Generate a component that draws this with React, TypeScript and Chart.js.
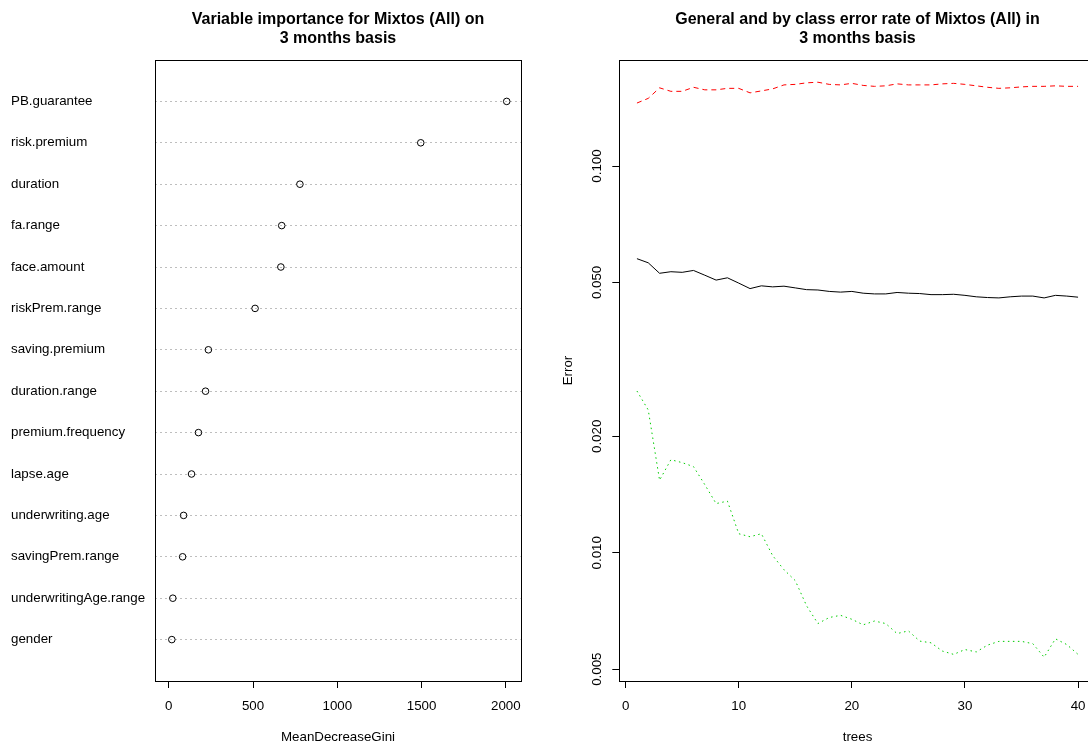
import React, { useEffect, useRef } from 'react';
import { Chart, registerables } from 'chart.js';

Chart.register(...registerables);

// ---------- Left panel: variable importance ----------
const variables = [
  'PB.guarantee',
  'risk.premium',
  'duration',
  'fa.range',
  'face.amount',
  'riskPrem.range',
  'saving.premium',
  'duration.range',
  'premium.frequency',
  'lapse.age',
  'underwriting.age',
  'savingPrem.range',
  'underwritingAge.range',
  'gender',
];
const importance = [2005, 1495, 778, 670, 665, 512, 235, 218, 176, 135, 88, 82, 24, 18];
const importanceTicks = [0, 500, 1000, 1500, 2000];

// ---------- Right panel: error rates ----------
const trees = [
  1, 2, 3, 4, 5, 6, 7, 8, 9, 10, 11, 12, 13, 14, 15, 16, 17, 18, 19, 20,
  21, 22, 23, 24, 25, 26, 27, 28, 29, 30, 31, 32, 33, 34, 35, 36, 37, 38, 39, 40,
];
const oobError = [
  0.0576, 0.0562, 0.0528, 0.0533, 0.0531, 0.0537, 0.0522, 0.0507, 0.0514, 0.0498,
  0.0482, 0.049, 0.0487, 0.0489, 0.0484, 0.0479, 0.0478, 0.0474, 0.0472, 0.0474,
  0.0469, 0.0467, 0.0467, 0.0471, 0.0469, 0.0468, 0.0465, 0.0465, 0.0466, 0.0463,
  0.0459, 0.0457, 0.0456, 0.0459, 0.0461, 0.0461, 0.0456, 0.0463, 0.0461, 0.0458,
];
const class1Error = [
  0.1455, 0.1496, 0.1593, 0.156, 0.156, 0.1598, 0.1574, 0.1574, 0.1588, 0.1588,
  0.1546, 0.1564, 0.1583, 0.1621, 0.1626, 0.1641, 0.1647, 0.1626, 0.1621, 0.1636,
  0.1616, 0.1607, 0.1612, 0.1631, 0.1621, 0.1621, 0.1621, 0.1631, 0.1636, 0.1626,
  0.1612, 0.1598, 0.1588, 0.1593, 0.1602, 0.1607, 0.1607, 0.1612, 0.1607, 0.1607,
];
const class2Error = [
  0.0262, 0.0234, 0.0154, 0.0174, 0.0171, 0.0167, 0.015, 0.0134, 0.0136, 0.0112,
  0.011, 0.0112, 0.00983, 0.00904, 0.00847, 0.00729, 0.00656, 0.0068, 0.00689, 0.00673,
  0.00651, 0.00666, 0.00656, 0.00618, 0.00628, 0.00591, 0.00585, 0.00557, 0.00546, 0.00562,
  0.00554, 0.00577, 0.0059, 0.0059, 0.0059, 0.00582, 0.00537, 0.00599, 0.00579, 0.00546,
];
const treeTicks = [0, 10, 20, 30, 40];
const errorTicks = [0.005, 0.01, 0.02, 0.05, 0.1];

const leftTitle = ['Variable importance for Mixtos (All) on', '3 months basis'];
const rightTitle = ['General and by class error rate of Mixtos (All) in', '3 months basis'];

const FAMILY = '"Liberation Sans", Arial, Helvetica, sans-serif';
const font = { family: FAMILY, size: 13.33 };
const titleFont = { family: FAMILY, size: 16, weight: 'bold' as const };

const boxPlugin = {
  id: 'rbox',
  afterDraw(chart: any) {
    const { ctx, chartArea: a } = chart;
    ctx.save();
    ctx.strokeStyle = '#000';
    ctx.lineWidth = 1;
    const l = Math.round(a.left) + 0.5;
    const t = Math.round(a.top) + 0.5;
    const r = Math.round(a.right) + 0.5;
    const b = Math.round(a.bottom) + 0.5;
    ctx.strokeRect(l, t, r - l, b - t);
    ctx.restore();
  },
};

function titleAxis(text: string[]) {
  return {
    type: 'linear' as const,
    axis: 'x' as const,
    position: 'top' as const,
    display: true,
    ticks: { display: false },
    grid: { display: false },
    border: { display: false },
    title: {
      display: true,
      text,
      color: '#000',
      font: titleFont,
      padding: { top: 9.5, bottom: 0 },
    },
    afterFit: (s: any) => {
      s.height = 60;
    },
  };
}

export default function App() {
  const leftRef = useRef<HTMLCanvasElement>(null);
  const rightRef = useRef<HTMLCanvasElement>(null);

  useEffect(() => {
    const n = variables.length;
    const left = new Chart(leftRef.current as HTMLCanvasElement, {
      type: 'scatter',
      data: {
        datasets: [
          {
            label: 'MeanDecreaseGini',
            data: importance.map((v, i) => ({ x: v, y: n - i })),
            pointRadius: 3.3,
            pointBorderWidth: 1,
            pointBorderColor: '#000',
            pointBackgroundColor: 'rgba(0,0,0,0)',
            showLine: false,
          },
        ],
      },
      options: {
        animation: false,
        responsive: false,
        maintainAspectRatio: false,
        devicePixelRatio: 1,
        layout: { padding: { left: 11, right: 540 - 520.7, top: 0, bottom: 0 } },
        plugins: {
          legend: { display: false },
          tooltip: { enabled: false },
          title: { display: false },
        },
        scales: {
          x: {
            type: 'linear',
            position: 'bottom',
            min: -80,
            max: 2088,
            afterBuildTicks: (s: any) => {
              s.ticks = importanceTicks.map((v) => ({ value: v }));
            },
            afterFit: (s: any) => {
              s.height = 79;
            },
            grid: {
              display: true,
              drawOnChartArea: false,
              drawTicks: true,
              tickLength: 7,
              tickColor: '#000',
              tickWidth: 1,
            },
            border: { display: false },
            ticks: {
              color: '#000',
              font,
              padding: 10,
              maxRotation: 0,
              autoSkip: false,
              callback: (v: any) => String(v),
            },
            title: {
              display: true,
              text: 'MeanDecreaseGini',
              color: '#000',
              font,
              padding: { top: 0, bottom: 14.5 },
            },
          },
          y: {
            type: 'linear',
            position: 'left',
            min: 0,
            max: 15,
            afterBuildTicks: (s: any) => {
              s.ticks = variables.map((_, i) => ({ value: n - i }));
            },
            afterFit: (s: any) => {
              s.width = 155.3 - 11;
            },
            ticks: {
              color: '#000',
              font,
              padding: 0,
              autoSkip: false,
              crossAlign: 'far',
              callback: (v: any) => variables[n - Number(v)],
            },
            grid: {
              display: true,
              color: '#BEBEBE',
              lineWidth: 1,
              drawTicks: false,
              tickLength: 0,
            },
            border: { display: false, dash: [2, 3] },
          },
          top: titleAxis(leftTitle) as any,
        },
      } as any,
      plugins: [boxPlugin],
    });

    const right = new Chart(rightRef.current as HTMLCanvasElement, {
      type: 'line',
      data: {
        datasets: [
          {
            label: 'OOB',
            data: trees.map((t, i) => ({ x: t, y: oobError[i] })),
            borderColor: '#000000',
            borderWidth: 1,
            pointRadius: 0,
            tension: 0,
            fill: false,
          },
          {
            label: 'class 1',
            data: trees.map((t, i) => ({ x: t, y: class1Error[i] })),
            borderColor: '#FF0000',
            borderWidth: 1,
            borderDash: [5, 4],
            pointRadius: 0,
            tension: 0,
            fill: false,
          },
          {
            label: 'class 2',
            data: trees.map((t, i) => ({ x: t, y: class2Error[i] })),
            borderColor: '#00CD00',
            borderWidth: 1,
            borderDash: [1.5, 3.5],
            pointRadius: 0,
            tension: 0,
            fill: false,
          },
        ],
      },
      options: {
        animation: false,
        responsive: false,
        maintainAspectRatio: false,
        devicePixelRatio: 1,
        layout: { padding: { left: 0, right: 580 - (1095.7 - 540), top: 0, bottom: 0 } },
        plugins: {
          legend: { display: false },
          tooltip: { enabled: false },
          title: { display: false },
        },
        scales: {
          x: {
            type: 'linear',
            position: 'bottom',
            min: -0.56,
            max: 41.56,
            afterBuildTicks: (s: any) => {
              s.ticks = treeTicks.map((v) => ({ value: v }));
            },
            afterFit: (s: any) => {
              s.height = 79;
            },
            grid: {
              display: true,
              drawOnChartArea: false,
              drawTicks: true,
              tickLength: 7,
              tickColor: '#000',
              tickWidth: 1,
            },
            border: { display: false },
            ticks: {
              color: '#000',
              font,
              padding: 10,
              maxRotation: 0,
              autoSkip: false,
              callback: (v: any) => String(v),
            },
            title: {
              display: true,
              text: 'trees',
              color: '#000',
              font,
              padding: { top: 0, bottom: 14.5 },
            },
          },
          y: {
            type: 'logarithmic',
            position: 'left',
            min: 0.00466,
            max: 0.188,
            afterBuildTicks: (s: any) => {
              s.ticks = errorTicks.map((v) => ({ value: v }));
            },
            afterFit: (s: any) => {
              s.width = 619.3 - 540;
            },
            grid: {
              display: true,
              drawOnChartArea: false,
              drawTicks: true,
              tickLength: 7,
              tickColor: '#000',
              tickWidth: 1,
            },
            border: { display: false },
            ticks: {
              color: '#000',
              font,
              padding: -2,
              autoSkip: false,
              minRotation: 90,
              maxRotation: 90,
              crossAlign: 'center',
              callback: (v: any) => Number(v).toFixed(3),
            },
            title: {
              display: true,
              text: 'Error',
              color: '#000',
              font,
              padding: { top: 20, bottom: 0 },
            },
          },
          top: titleAxis(rightTitle) as any,
        },
      } as any,
      plugins: [boxPlugin],
    });

    return () => {
      left.destroy();
      right.destroy();
    };
  }, []);

  return (
    <div
      style={{
        position: 'absolute',
        left: 0,
        top: 0,
        width: 1088,
        height: 744,
        overflow: 'hidden',
        background: '#ffffff',
      }}
    >
      <canvas
        ref={leftRef}
        width={540}
        height={760}
        style={{ position: 'absolute', left: 0, top: 0, width: 540, height: 760 }}
      />
      <canvas
        ref={rightRef}
        width={580}
        height={760}
        style={{ position: 'absolute', left: 540, top: 0, width: 580, height: 760 }}
      />
    </div>
  );
}
